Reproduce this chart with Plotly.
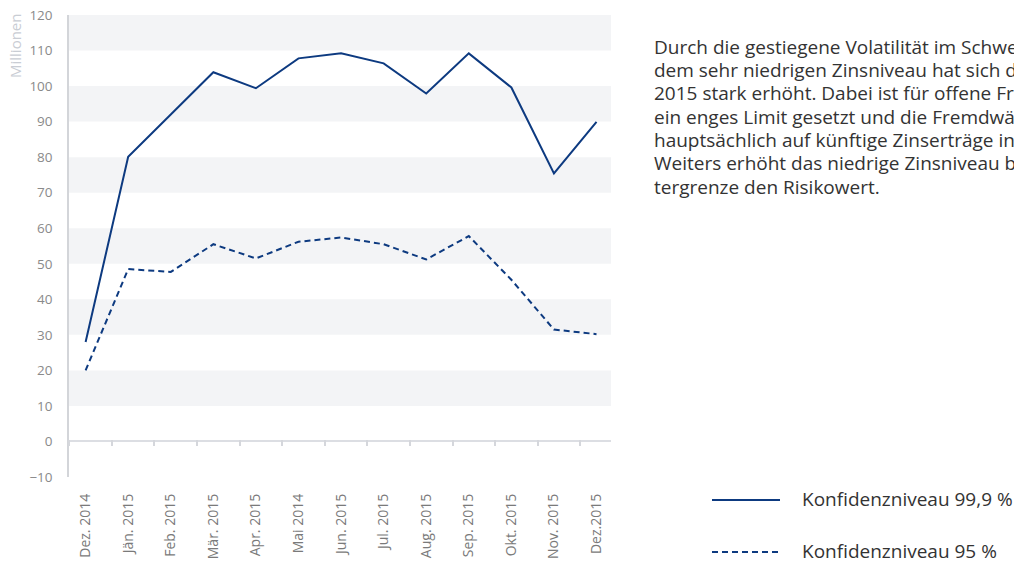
import plotly.graph_objects as go

# ---- data ----
months = ["Dez. 2014", "Jän. 2015", "Feb. 2015", "Mär. 2015", "Apr. 2015", "Mai 2014",
          "Jun. 2015", "Jul. 2015", "Aug. 2015", "Sep. 2015", "Okt. 2015", "Nov. 2015", "Dez.2015"]
var_999 = [28.0, 80.1, 92.0, 103.9, 99.4, 107.8, 109.2, 106.4, 97.9, 109.2, 99.6, 75.4, 89.9]
var_95 = [20.0, 48.5, 47.7, 55.5, 51.5, 56.2, 57.4, 55.5, 51.2, 57.8, 45.5, 31.5, 30.2]
series_names = ["Konfidenzniveau 99,9 %", "Konfidenzniveau 95 %"]
y_ticks = list(range(-10, 121, 10))
band_starts = list(range(10, 120, 20))
paragraph = [
    "Durch die gestiegene Volatilität im Schweizer Franken und",
    "dem sehr niedrigen Zinsniveau hat sich der VaR im Jahr",
    "2015 stark erhöht. Dabei ist für offene Fremdwährungspositionen",
    "ein enges Limit gesetzt und die Fremdwährungsrisiken beziehen",
    "hauptsächlich auf künftige Zinserträge in Fremdwährung.",
    "Weiters erhöht das niedrige Zinsniveau bei Nutzung einer Un-",
    "tergrenze den Risikowert.",
]

NAVY = "#0d3a80"
FONT = "Open Sans"
TEXT_C = "#333333"
line_styles = [dict(color=NAVY, width=2), dict(color=NAVY, width=2, dash="6px,4px")]

# page body has an 8px default margin; figure is sized/margined to compensate
OFF = 8
W, H = 1022 - OFF, 565 - OFF
ML, MT, MR, MB = 69 - OFF, 15 - OFF, 411, 88
PW, PH = W - ML - MR, H - MT - MB


def px_x(px):  # page pixel -> paper x
    return (px - OFF - ML) / PW


def px_y(py):  # page pixel -> paper y
    return 1 - (py - OFF - MT) / PH


fig = go.Figure()
for name, vals, st in zip(series_names, [var_999, var_95], line_styles):
    fig.add_trace(go.Scatter(x=months, y=vals, mode="lines", name=name, line=st,
                             showlegend=False, hoverinfo="x+y"))
# empty trace to register the tick axis on the zero line
fig.add_trace(go.Scatter(x=[], y=[], xaxis="x2", showlegend=False, hoverinfo="skip"))

shapes = []
for b in band_starts:
    shapes.append(dict(type="rect", xref="paper", yref="y", x0=0, x1=1, y0=b, y1=b + 10,
                       fillcolor="#f3f4f6", line=dict(width=0), layer="below"))

annotations = []
# manual legend
leg_py = [499, 551]
for name, st, py in zip(series_names, line_styles, leg_py):
    shapes.append(dict(type="line", xref="paper", yref="paper", x0=px_x(712), x1=px_x(780),
                       y0=px_y(py + 1), y1=px_y(py + 1), line=st))
    annotations.append(dict(text=name, xref="paper", yref="paper", x=px_x(800), y=px_y(py),
                            xanchor="left", yanchor="middle", showarrow=False,
                            font=dict(family=FONT, size=19, color=TEXT_C)))

for i, line in enumerate(paragraph):
    annotations.append(dict(text=line, xref="paper", yref="paper", x=px_x(652),
                            y=px_y(46.7 + 23.3 * i), xanchor="left", yanchor="middle",
                            align="left", showarrow=False,
                            font=dict(family=FONT, size=19, color=TEXT_C)))

annotations.append(dict(text="Millionen", xref="paper", yref="paper", x=px_x(15), y=px_y(46),
                        xanchor="center", yanchor="middle", textangle=-90, showarrow=False,
                        font=dict(family=FONT, size=15, color="#c9cdd4")))

fig.update_layout(
    width=W, height=H,
    margin=dict(l=ML, r=MR, t=MT, b=MB, autoexpand=False),
    paper_bgcolor="white", plot_bgcolor="white",
    font=dict(family=FONT, color="#7f7f7f"),
    xaxis=dict(type="category", range=[-0.39, 12.34], tickangle=-90, ticks="",
               showgrid=False, showline=False, zeroline=False, ticklabelstandoff=13,
               automargin=False, ticklabeloverflow="allow",
               tickfont=dict(size=14, color="#7a7a7a")),
    xaxis2=dict(type="linear", overlaying="x", anchor="free", position=(0.8 + 10) / 130,
                range=[-1.002, 11.72], tick0=0, dtick=1, ticks="outside", ticklen=6,
                tickwidth=1.5, tickcolor="#d5d7dc", showticklabels=False, showgrid=False,
                showline=False, zeroline=False, automargin=False),
    yaxis=dict(range=[-10, 120], tickvals=y_ticks, ticks="", showgrid=False,
               zeroline=True, zerolinecolor="#dcdee3", zerolinewidth=2,
               showline=True, linecolor="#d3d5d9", linewidth=1.5, ticklabelstandoff=12,
               automargin=False, ticklabeloverflow="allow",
               tickfont=dict(size=13.5, color="#8a8a8a")),
    shapes=shapes,
    annotations=annotations,
)

fig.write_html("out.html")
